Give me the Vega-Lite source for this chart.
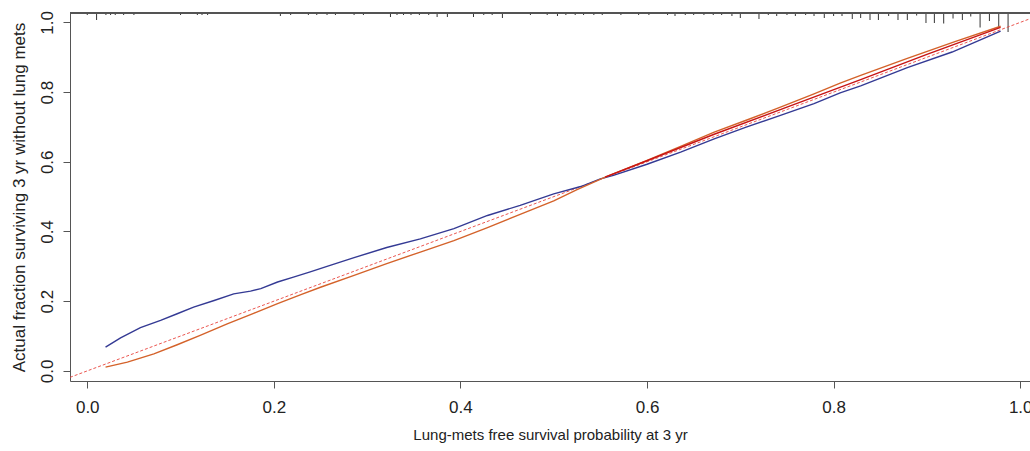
{
  "$schema": "https://vega.github.io/schema/vega-lite/v6.json",
  "width": 960,
  "height": 368,
  "autosize": {"type": "none"},
  "padding": {"left": 70, "top": 13, "right": 0, "bottom": 70},
  "background": "white",
  "config": {
    "view": {"stroke": null},
    "font": "Liberation Sans"
  },
  "datasets": {
    "rug": [
      {"x": 0.000, "h": 2}, {"x": 0.010, "h": 7}, {"x": 0.020, "h": 2}, {"x": 0.025, "h": 2},
      {"x": 0.030, "h": 2}, {"x": 0.039, "h": 2}, {"x": 0.050, "h": 2}, {"x": 0.100, "h": 2},
      {"x": 0.118, "h": 2}, {"x": 0.123, "h": 2}, {"x": 0.129, "h": 2}, {"x": 0.207, "h": 3},
      {"x": 0.218, "h": 2}, {"x": 0.237, "h": 2}, {"x": 0.246, "h": 2}, {"x": 0.257, "h": 2},
      {"x": 0.266, "h": 2}, {"x": 0.286, "h": 2}, {"x": 0.296, "h": 2}, {"x": 0.325, "h": 4},
      {"x": 0.332, "h": 2}, {"x": 0.339, "h": 2}, {"x": 0.347, "h": 2}, {"x": 0.356, "h": 2},
      {"x": 0.366, "h": 2}, {"x": 0.375, "h": 4}, {"x": 0.386, "h": 4}, {"x": 0.414, "h": 4},
      {"x": 0.425, "h": 2}, {"x": 0.434, "h": 2}, {"x": 0.445, "h": 5}, {"x": 0.475, "h": 2},
      {"x": 0.493, "h": 2}, {"x": 0.504, "h": 3}, {"x": 0.513, "h": 2}, {"x": 0.523, "h": 2},
      {"x": 0.532, "h": 2}, {"x": 0.543, "h": 2}, {"x": 0.552, "h": 2}, {"x": 0.572, "h": 2},
      {"x": 0.591, "h": 2}, {"x": 0.602, "h": 2}, {"x": 0.622, "h": 2}, {"x": 0.630, "h": 3},
      {"x": 0.641, "h": 2}, {"x": 0.650, "h": 2}, {"x": 0.661, "h": 2}, {"x": 0.671, "h": 2},
      {"x": 0.680, "h": 2}, {"x": 0.691, "h": 3}, {"x": 0.700, "h": 5}, {"x": 0.720, "h": 6},
      {"x": 0.730, "h": 2}, {"x": 0.739, "h": 3}, {"x": 0.750, "h": 2}, {"x": 0.759, "h": 3},
      {"x": 0.770, "h": 2}, {"x": 0.779, "h": 3}, {"x": 0.790, "h": 5}, {"x": 0.800, "h": 3},
      {"x": 0.809, "h": 3}, {"x": 0.820, "h": 6}, {"x": 0.829, "h": 5}, {"x": 0.839, "h": 7},
      {"x": 0.848, "h": 7}, {"x": 0.859, "h": 3}, {"x": 0.869, "h": 7}, {"x": 0.879, "h": 7},
      {"x": 0.889, "h": 2.5}, {"x": 0.899, "h": 10}, {"x": 0.908, "h": 10}, {"x": 0.918, "h": 10.5},
      {"x": 0.928, "h": 5.5}, {"x": 0.938, "h": 7}, {"x": 0.947, "h": 3.5}, {"x": 0.957, "h": 14.5},
      {"x": 0.967, "h": 8}, {"x": 0.977, "h": 14.5}, {"x": 0.987, "h": 19}
    ],
    "diag": [
      {"x": -0.0185, "y": -0.0185},
      {"x": 1.0105, "y": 1.0105}
    ],
    "curves": [
      {"s": "blue", "x": 0.0196, "y": 0.068}, {"s": "blue", "x": 0.0357, "y": 0.095},
      {"s": "blue", "x": 0.057, "y": 0.124}, {"s": "blue", "x": 0.0786, "y": 0.145},
      {"s": "blue", "x": 0.0964, "y": 0.164}, {"s": "blue", "x": 0.114, "y": 0.183},
      {"s": "blue", "x": 0.136, "y": 0.202}, {"s": "blue", "x": 0.157, "y": 0.221},
      {"s": "blue", "x": 0.175, "y": 0.229}, {"s": "blue", "x": 0.186, "y": 0.236},
      {"s": "blue", "x": 0.204, "y": 0.255}, {"s": "blue", "x": 0.221, "y": 0.269},
      {"s": "blue", "x": 0.239, "y": 0.284}, {"s": "blue", "x": 0.257, "y": 0.300},
      {"s": "blue", "x": 0.286, "y": 0.325}, {"s": "blue", "x": 0.321, "y": 0.354},
      {"s": "blue", "x": 0.357, "y": 0.379}, {"s": "blue", "x": 0.393, "y": 0.408},
      {"s": "blue", "x": 0.429, "y": 0.446}, {"s": "blue", "x": 0.464, "y": 0.475},
      {"s": "blue", "x": 0.500, "y": 0.508}, {"s": "blue", "x": 0.529, "y": 0.529},
      {"s": "blue", "x": 0.550, "y": 0.551}, {"s": "blue", "x": 0.564, "y": 0.561},
      {"s": "blue", "x": 0.600, "y": 0.593}, {"s": "blue", "x": 0.636, "y": 0.628},
      {"s": "blue", "x": 0.672, "y": 0.666}, {"s": "blue", "x": 0.707, "y": 0.700},
      {"s": "blue", "x": 0.743, "y": 0.733}, {"s": "blue", "x": 0.779, "y": 0.767},
      {"s": "blue", "x": 0.807, "y": 0.798}, {"s": "blue", "x": 0.829, "y": 0.818},
      {"s": "blue", "x": 0.879, "y": 0.870}, {"s": "blue", "x": 0.927, "y": 0.915},
      {"s": "blue", "x": 0.979, "y": 0.975},
      {"s": "orange", "x": 0.0196, "y": 0.011}, {"s": "orange", "x": 0.043, "y": 0.025},
      {"s": "orange", "x": 0.0714, "y": 0.049}, {"s": "orange", "x": 0.0964, "y": 0.075},
      {"s": "orange", "x": 0.121, "y": 0.102}, {"s": "orange", "x": 0.150, "y": 0.135},
      {"s": "orange", "x": 0.179, "y": 0.166}, {"s": "orange", "x": 0.204, "y": 0.193},
      {"s": "orange", "x": 0.229, "y": 0.219}, {"s": "orange", "x": 0.250, "y": 0.240},
      {"s": "orange", "x": 0.286, "y": 0.274}, {"s": "orange", "x": 0.321, "y": 0.308},
      {"s": "orange", "x": 0.357, "y": 0.341}, {"s": "orange", "x": 0.393, "y": 0.374},
      {"s": "orange", "x": 0.429, "y": 0.411}, {"s": "orange", "x": 0.464, "y": 0.449},
      {"s": "orange", "x": 0.500, "y": 0.488}, {"s": "orange", "x": 0.525, "y": 0.520},
      {"s": "orange", "x": 0.557, "y": 0.558},
      {"s": "orange", "x": 0.600, "y": 0.604}, {"s": "orange", "x": 0.636, "y": 0.644},
      {"s": "orange", "x": 0.672, "y": 0.685}, {"s": "orange", "x": 0.707, "y": 0.720},
      {"s": "orange", "x": 0.743, "y": 0.757}, {"s": "orange", "x": 0.779, "y": 0.795},
      {"s": "orange", "x": 0.807, "y": 0.826}, {"s": "orange", "x": 0.829, "y": 0.848},
      {"s": "orange", "x": 0.879, "y": 0.897}, {"s": "orange", "x": 0.930, "y": 0.945},
      {"s": "orange", "x": 0.979, "y": 0.989},
      {"s": "red", "x": 0.555, "y": 0.556}, {"s": "red", "x": 0.600, "y": 0.603},
      {"s": "red", "x": 0.672, "y": 0.679}, {"s": "red", "x": 0.750, "y": 0.757},
      {"s": "red", "x": 0.829, "y": 0.836}, {"s": "red", "x": 0.900, "y": 0.908},
      {"s": "red", "x": 0.979, "y": 0.986}
    ]
  },
  "resolve": {"scale": {"y": "independent"}, "axis": {"y": "independent"}},
  "layer": [
    {
      "data": {"name": "rug"},
      "layer": [
        {
          "mark": {"type": "rule", "color": "#333333", "strokeWidth": 1},
          "encoding": {
            "x": {
              "field": "x", "type": "quantitative",
              "scale": {"domain": [-0.0185, 1.0105], "nice": false, "zero": false},
              "axis": {
                "title": "Lung-mets free survival probability at 3 yr",
                "values": [0, 0.2, 0.4, 0.6, 0.8, 1.0],
                "format": ".1f",
                "grid": false,
                "domainColor": "#555555",
                "tickColor": "#555555",
                "tickSize": 7,
                "labelFontSize": 17,
                "labelColor": "#222222",
                "labelPadding": 11,
                "labelFlush": false,
                "labelOverlap": false,
                "titleFontSize": 15,
                "titleFontWeight": "normal",
                "titleColor": "#222222",
                "titlePadding": 12
              }
            },
            "y": {"field": "h", "type": "quantitative", "scale": {"domain": [0, 368], "reverse": true, "nice": false, "zero": false}, "axis": null},
            "y2": {"datum": 0}
          }
        },
        {
          "mark": {"type": "rule", "color": "#555555", "strokeWidth": 1},
          "encoding": {"y": {"datum": 0}}
        }
      ]
    },
    {
      "layer": [
        {
          "data": {"name": "diag"},
          "mark": {"type": "line", "color": "#e8433c", "strokeWidth": 0.9, "strokeDash": [3, 2], "clip": true},
          "encoding": {
            "x": {"field": "x", "type": "quantitative", "scale": {"domain": [-0.0185, 1.0105], "nice": false, "zero": false}},
            "y": {"field": "y", "type": "quantitative", "scale": {"domain": [-0.029, 1.027], "nice": false, "zero": false}}
          }
        },
        {
          "data": {"name": "curves"},
          "mark": {"type": "line", "interpolate": "linear", "clip": true},
          "encoding": {
            "x": {
              "field": "x", "type": "quantitative",
              "scale": {"domain": [-0.0185, 1.0105], "nice": false, "zero": false}
            },
            "y": {
              "field": "y", "type": "quantitative",
              "scale": {"domain": [-0.029, 1.027], "nice": false, "zero": false},
              "axis": {
                "orient": "left",
                "title": "Actual fraction surviving 3 yr without lung mets",
                "values": [0, 0.2, 0.4, 0.6, 0.8, 1.0],
                "format": ".1f",
                "grid": false,
                "domainColor": "#555555",
                "tickColor": "#555555",
                "tickSize": 7,
                "labelAngle": -90,
                "labelAlign": "center",
                "labelBaseline": "bottom",
                "labelFontSize": 17,
                "labelColor": "#222222",
                "labelPadding": 7,
                "labelFlush": false,
                "titleFontSize": 17,
                "titleFontWeight": "normal",
                "titleColor": "#222222",
                "titlePadding": 10
              }
            },
            "color": {
              "field": "s", "type": "nominal",
              "scale": {"domain": ["blue", "orange", "red"], "range": ["#343a94", "#d4622a", "#c81414"]},
              "legend": null
            },
            "strokeWidth": {
              "field": "s", "type": "nominal",
              "scale": {"domain": ["blue", "orange", "red"], "range": [1.4, 1.4, 2.5]},
              "legend": null
            }
          }
        }
      ]
    }
  ]
}
